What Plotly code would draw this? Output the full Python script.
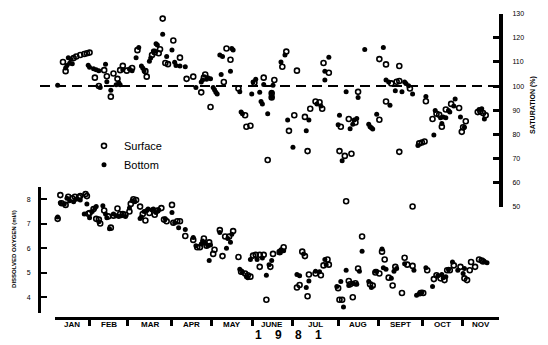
import plotly.graph_objects as go

# ---------------- data (x = day of year 1981) ----------------
MONTHS = ["JAN", "FEB", "MAR", "APR", "MAY", "JUNE", "JUL", "AUG", "SEPT", "OCT", "NOV"]
MONTH_BOUNDS = [0, 25.6, 54.9, 87.3, 117.4, 148.2, 179.0, 212.9, 243.7, 276.8, 306.9, 334]

SAT_TICKS = [50, 60, 70, 80, 90, 100, 110, 120, 130]
DO_TICKS = [4, 5, 6, 7, 8]

# Saturation (%) - surface (open symbols)
sat_surf_day = [6, 8, 14, 16, 19, 22, 24, 26, 30, 33, 37, 39, 44, 42, 47, 49, 51, 54, 58, 62,
                69, 68, 73, 75, 81, 89, 79, 78, 83, 85, 94, 99, 104, 110, 113, 112, 117, 127, 129, 132,
                138, 143, 144, 147, 150, 157, 160, 163, 165, 171, 174, 176, 180, 182, 188, 190, 192, 196, 199, 201,
                202, 206, 214, 215, 218, 223, 219, 221, 226, 228, 244, 244, 249, 249, 253, 257, 259, 259, 259, 267,
                269, 274, 276, 278, 279, 284, 287, 289, 291, 294, 298, 304, 306, 307, 309, 318, 320, 322, 324, 163]
sat_surf = [110, 106.2, 111.6, 112.3, 112.9, 113.3, 113.6, 113.9, 103.5, 100, 106.6, 104.1, 105.2, 95.6, 103, 106.6, 108.4, 106.4, 107.5, 114.9,
            103.9, 106.2, 112.9, 114, 128, 118.9, 115.3, 113.6, 109.6, 109.1, 111.8, 103, 103.9, 97.4, 104.8, 103.5, 91.3, 101.7, 115.6, 110.9,
            99, 87.9, 83.1, 83.5, 101.4, 103.5, 69.3, 95.3, 102.5, 108, 114.3, 81.4, 87.9, 106.4, 87.2, 73, 90.6, 93.6, 93.3, 90.6,
            109.6, 105.5, 73, 83.1, 71, 71.9, 52.2, 86.3, 84.9, 97.6, 86, 111.2, 109, 93.6, 101.1, 101.8, 102.1, 108.3, 72.7, 99,
            50, 76.2, 76.6, 77, 93.7, 86.3, 88.5, 88.1, 83.1, 90.3, 92.6, 90.9, 81, 82.9, 85.4, 89.2, 89.5, 88.8, 87.9, 97]

# Saturation (%) - bottom (filled symbols)
sat_bot_day = [2, 8, 9, 11, 12, 13, 10, 25, 26, 29, 31, 33, 34, 38, 39, 42, 46, 48, 49, 51,
               56, 58, 61, 63, 65, 66, 67, 71, 72, 74, 76, 81, 88, 77, 75, 84, 90, 91, 94, 98,
               106, 110, 111, 114, 115, 117, 119, 120, 121, 122, 125, 124, 126, 133, 134, 132, 139, 140, 141, 148,
               149, 151, 154, 155, 156, 160, 157, 163, 164, 170, 173, 175, 179, 189, 191, 197, 200, 203, 206, 203,
               214, 213, 216, 219, 222, 224, 225, 227, 228, 233, 236, 237, 238, 239, 242, 247, 252, 249, 251, 256,
               261, 263, 264, 266, 269, 273, 279, 285, 286, 290, 291, 292, 294, 296, 297, 300, 301, 305, 308, 319,
               321, 323, 163]
sat_bot = [100.3, 107.5, 108.5, 109.5, 111.1, 109.3, 111.8, 108.6, 107.8, 107.2, 106.8, 106.4, 99.4, 109.1, 101.8, 98.3, 100.5, 101.4, 100.5, 106.8,
           107.1, 106.4, 111.8, 116, 108.3, 107.5, 106.4, 110.3, 111.6, 114.6, 117.6, 121.5, 115, 117, 114.6, 112.3, 109.9, 108.5, 108.3, 108,
           99.4, 101.7, 102.5, 102.8, 103.5, 103, 99.4, 98.5, 97.4, 96.7, 104.8, 112.9, 112.3, 115.6, 115, 106.2, 97.6, 89.2, 88.5, 96.7,
           101.7, 102.8, 97.4, 93.6, 92.6, 88.5, 100.6, 97.4, 100.3, 110, 112.9, 85.9, 74.6, 81.4, 85.9, 92.6, 91.7, 106.2, 112, 102.5,
           87.9, 83.9, 69, 97.6, 82.3, 84.1, 85.9, 86.5, 95.3, 115.2, 84.1, 83.1, 82.7, 82.2, 88.3, 116, 92, 102.5, 101.7, 98.1,
           97.6, 101.7, 101.1, 100.1, 96.7, 75.3, 95.7, 79.7, 89.9, 86.8, 84.5, 87.2, 86.8, 89.9, 89.2, 91.7, 94.6, 87.2, 82.9, 90.3,
           90.6, 86.3, 95.6]

# Dissolved oxygen (ml/l) - surface (open symbols)
do_surf_day = [2, 4, 5, 8, 10, 13, 15, 18, 19, 23, 24, 25, 26, 29, 31, 33, 34, 37, 40, 42,
               44, 47, 49, 51, 53, 56, 57, 59, 61, 64, 66, 68, 71, 75, 77, 80, 82, 84, 88, 89,
               92, 94, 95, 98, 104, 107, 109, 112, 114, 116, 119, 120, 124, 126, 128, 131, 134, 138, 140, 143,
               145, 147, 149, 151, 154, 154, 157, 159, 162, 164, 169, 172, 186, 188, 182, 184, 190, 191, 196, 200,
               202, 205, 206, 213, 214, 216, 221, 222, 226, 228, 224, 231, 237, 239, 241, 244, 246, 248, 251, 254,
               256, 261, 263, 265, 269, 280, 275, 277, 285, 287, 290, 293, 295, 297, 300, 305, 308, 310, 312, 313,
               316, 319, 321, 322]
do_surf = [7.2, 8.17, 7.84, 7.77, 8.1, 8.04, 8.1, 8.08, 8.13, 8.21, 8.13, 7.41, 7.44, 7.6, 7.2, 7.17, 7.01, 7.54, 7.3, 6.84,
           7.33, 7.62, 7.4, 7.4, 7.37, 7.5, 7.81, 8.0, 7.97, 7.7, 7.4, 7.13, 7.44, 7.37, 7.54, 7.64, 7.17, 7.1, 7.77, 7.04,
           7.1, 7.1, 8.5, 6.5, 6.34, 6.04, 6.04, 6.4, 6.1, 6.24, 5.77, 5.94, 6.74, 5.68, 6.48, 6.48, 6.7, 5.64, 5.04, 4.97,
           4.9, 4.84, 5.7, 5.73, 5.73, 5.24, 5.73, 3.9, 5.24, 5.77, 5.84, 6.04, 5.86, 5.68, 4.4, 4.5, 4.04, 4.93, 4.97, 4.9,
           5.3, 5.54, 5.33, 4.37, 3.9, 3.9, 4.66, 4.53, 4.57, 5.17, 4.0, 6.48, 4.53, 4.48, 5.01, 4.97, 5.86, 5.54, 4.8, 4.48,
           5.24, 4.17, 5.61, 5.33, 5.28, 5.1, 4.17, 4.17, 4.74, 4.9, 4.77, 4.7, 5.1, 5.1, 5.3, 5.24, 4.77, 4.7, 5.1, 5.44,
           5.24, 5.54, 5.5, 5.46]

# Dissolved oxygen (ml/l) - bottom (filled symbols)
do_bot_day = [2, 4, 7, 9, 11, 14, 16, 19, 24, 22, 26, 28, 30, 31, 33, 36, 38, 39, 41, 44,
              46, 48, 50, 53, 56, 58, 60, 64, 65, 67, 69, 70, 73, 74, 76, 78, 83, 88, 90, 93,
              95, 98, 104, 106, 110, 111, 113, 115, 117, 116, 124, 129, 130, 132, 133, 139, 141, 144, 145, 147,
              152, 156, 159, 161, 163, 169, 170, 172, 187, 182, 184, 189, 191, 196, 199, 203, 204, 212, 215, 217,
              219, 221, 224, 227, 229, 231, 236, 238, 241, 242, 246, 247, 249, 253, 255, 257, 263, 270, 279, 272,
              274, 276, 284, 288, 291, 292, 294, 296, 299, 303, 307, 308, 323, 325]
do_bot = [7.28, 7.86, 7.81, 8.04, 7.94, 7.9, 8.0, 7.97, 7.81, 7.4, 7.24, 7.5, 7.64, 7.7, 7.08, 7.73, 7.4, 7.24, 6.8, 7.4,
          7.33, 7.3, 7.33, 7.3, 7.64, 7.94, 7.9, 7.21, 7.28, 7.5, 7.54, 7.6, 7.57, 7.6, 7.46, 7.57, 7.2, 7.46, 7.04, 6.84,
          8.74, 6.77, 6.44, 6.1, 6.17, 6.3, 6.2, 6.1, 6.13, 5.5, 6.64, 6.0, 6.4, 6.24, 6.57, 5.14, 5.01, 4.84, 4.8, 5.54,
          5.54, 5.6, 4.9, 5.33, 5.5, 5.86, 5.94, 5.9, 5.77, 4.93, 4.88, 4.4, 4.66, 5.06, 5.04, 5.54, 5.33, 4.44, 4.64, 3.6,
          5.1, 4.48, 4.57, 4.53, 5.06, 5.88, 4.64, 4.4, 5.06, 5.06, 5.97, 5.2, 5.14, 4.77, 5.06, 5.17, 5.37, 5.1, 5.2, 4.08,
          4.13, 4.21, 4.44, 4.88, 4.93, 4.8, 4.84, 5.14, 5.44, 5.1, 4.97, 5.17, 5.46, 5.41]

# ---------------- figure ----------------
W, H = 548, 345
FONT = "Liberation Sans, Arial, sans-serif"


def px(v):
    return v / W


def py(v):
    return 1 - v / H


fig = go.Figure()

open_marker = dict(symbol="circle-open", size=5, color="black", line=dict(width=1.6, color="black"))
fill_marker = dict(symbol="circle", size=5, color="black", line=dict(width=0))

fig.add_trace(go.Scatter(x=sat_surf_day, y=sat_surf, mode="markers", marker=open_marker,
                         name="Surface", xaxis="x", yaxis="y2", cliponaxis=False))
fig.add_trace(go.Scatter(x=sat_bot_day, y=sat_bot, mode="markers", marker=fill_marker,
                         name="Bottom", xaxis="x", yaxis="y2", cliponaxis=False))
fig.add_trace(go.Scatter(x=do_surf_day, y=do_surf, mode="markers", marker=open_marker,
                         name="Surface", showlegend=False, xaxis="x", yaxis="y", cliponaxis=False))
fig.add_trace(go.Scatter(x=do_bot_day, y=do_bot, mode="markers", marker=fill_marker,
                         name="Bottom", showlegend=False, xaxis="x", yaxis="y", cliponaxis=False))

month_mid = [(MONTH_BOUNDS[i] + MONTH_BOUNDS[i + 1]) / 2 for i in range(len(MONTHS))]
x_dom = [px(55), px(499)]
x_pos = py(321)

fig.update_layout(
    width=W, height=H, margin=dict(l=0, r=0, t=0, b=0),
    paper_bgcolor="white", plot_bgcolor="rgba(0,0,0,0)",
    font=dict(family=FONT, color="black"),
    xaxis=dict(domain=x_dom, range=[0, 334], anchor="free", position=x_pos,
               showline=True, linewidth=3, linecolor="black", mirror=False,
               ticks="outside", ticklen=6, tickwidth=3, tickcolor="black",
               tickvals=MONTH_BOUNDS[1:-1], showticklabels=False,
               showgrid=False, zeroline=False),
    yaxis=dict(domain=[py(315), py(187)], range=[8 - (315 - 199.3) / 25, 8 + (199.3 - 187) / 25],
               anchor="free", position=px(39), side="left",
               showline=True, linewidth=3, linecolor="black",
               ticks="inside", ticklen=6, tickwidth=2, tickcolor="black",
               tickvals=DO_TICKS, tickfont=dict(size=7), ticklabelstandoff=6,
               showgrid=False, zeroline=False),
    yaxis2=dict(domain=[py(206.7), py(10)], range=[50, 130],
                anchor="free", position=px(501), side="right",
                showline=True, linewidth=4, linecolor="black",
                ticks="inside", ticklen=6, tickwidth=3, tickcolor="black",
                tickvals=SAT_TICKS, tickfont=dict(size=7), ticklabelstandoff=8,
                showgrid=False, zeroline=False),
    legend=dict(x=px(84), y=py(130), xanchor="left", yanchor="top",
                bgcolor="rgba(0,0,0,0)", borderwidth=0,
                font=dict(size=11, family=FONT), itemsizing="trace",
                tracegroupgap=0),
    showlegend=True,
)

# month names centred between the month boundary ticks
for name, mid in zip(MONTHS, month_mid):
    fig.add_annotation(text="<b>%s</b>" % name, x=mid, y=py(327.5), xref="x", yref="paper",
                       xanchor="center", yanchor="middle",
                       showarrow=False, font=dict(size=8, family=FONT))

# dashed 100% saturation reference line
fig.add_shape(type="line", xref="paper", yref="y2", x0=px(40), x1=px(499), y0=100, y1=100,
              line=dict(color="black", width=2, dash="10px,6px"), layer="below")

# axis titles
fig.add_annotation(text="<b>SATURATION (%)</b>", x=px(533), y=py(103), xref="paper", yref="paper",
                   xanchor="center", yanchor="middle",
                   textangle=-90, showarrow=False, font=dict(size=7, family=FONT))
fig.add_annotation(text="<b>DISSOLVED OXYGEN (ml/l)</b>", x=px(14), y=py(250), xref="paper", yref="paper",
                   xanchor="center", yanchor="middle",
                   textangle=-90, showarrow=False, font=dict(size=6, family=FONT))
# year
fig.add_annotation(text="<b>1    9    8    1</b>", x=px(288), y=py(337.5), xref="paper", yref="paper",
                   xanchor="center", yanchor="middle",
                   showarrow=False, font=dict(size=12, family=FONT))

fig.write_html("out.html", config={"displayModeBar": False},
               post_script="document.body.style.margin='0px';")
